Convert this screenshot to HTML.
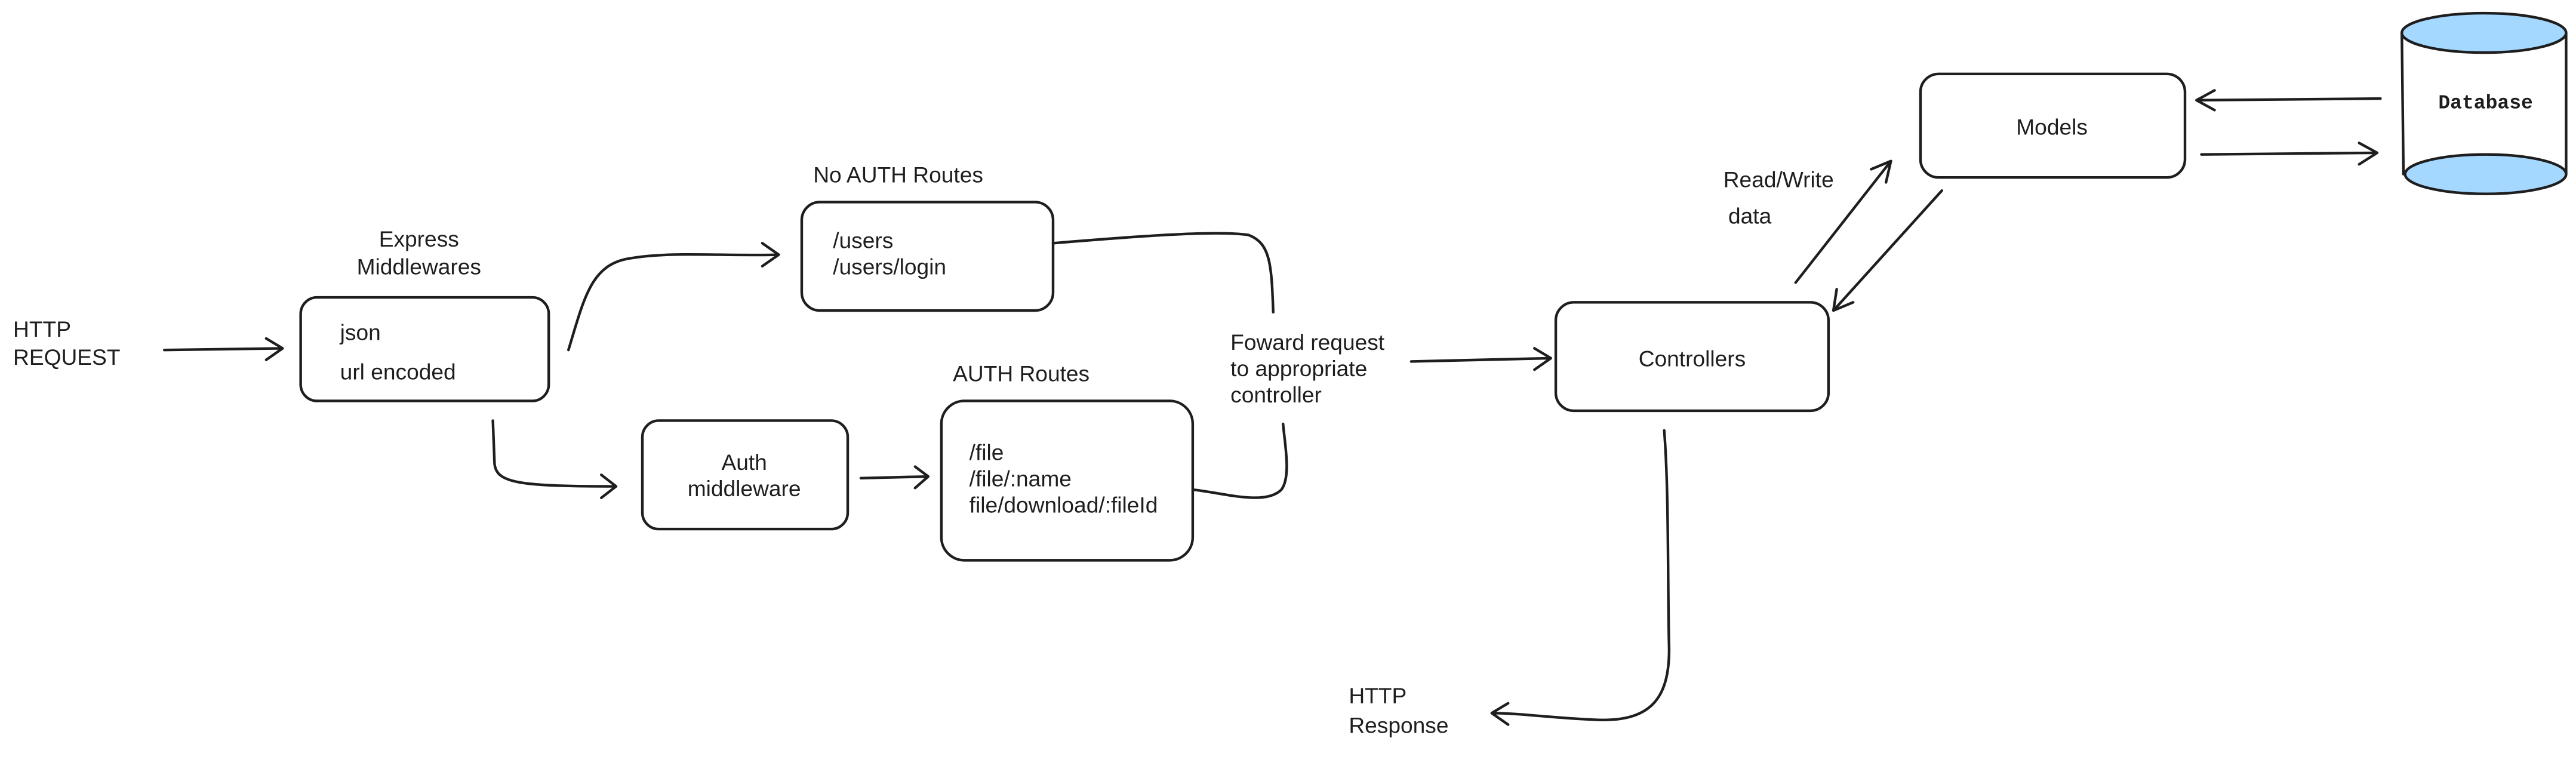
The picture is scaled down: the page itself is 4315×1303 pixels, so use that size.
<!DOCTYPE html>
<html><head><meta charset="utf-8"><style>
html,body{margin:0;padding:0;background:#fff}
svg{display:block}
text{font-family:"Liberation Sans",sans-serif;font-size:13.5px;fill:#1e1e1e}
.m{font-family:"Liberation Mono",monospace;font-size:12px;font-weight:600}
</style></head><body>
<svg width="4315" height="1303" viewBox="0 0 1568 473.5" xmlns="http://www.w3.org/2000/svg">
<g fill="none" stroke="#1e1e1e" stroke-width="1.6" stroke-linecap="round" stroke-linejoin="round">
<rect x="183" y="181" width="151" height="63" rx="10"/>
<rect x="488" y="123" width="153" height="66" rx="11"/>
<rect x="391" y="256" width="125" height="66" rx="10"/>
<rect x="573" y="244" width="153" height="97" rx="14"/>
<rect x="947" y="184" width="166" height="66" rx="11"/>
<rect x="1169" y="45" width="161" height="63" rx="11"/>
<path d="M100 213 L172 212 M162 206 L172 212 L162 219"/>
<path d="M346 213 C356 180 360 160 385 157 C410 153 440 156 474 155 M464 148 L474 155 L464 162"/>
<path d="M300 256 L301 282 C302 294 315 296 375 296 M366 289 L375 296 L366 303"/>
<path d="M524 291 L565 290 M557 284 L565 290 L557 297"/>
<path d="M641 148 C690 144 740 140 760 143 C773 148 774 160 775 190"/>
<path d="M726 298 C745 300 770 308 780 298 C786 290 782 270 781 258"/>
<path d="M859 220 L944 218 M934 212 L944 218 L934 225"/>
<path d="M1013 262 C1016 300 1015 360 1016 395 C1016 425 1005 440 970 438 C945 437 925 434 908 434 M918 428 L908 434 L918 441"/>
<path d="M1093 172 L1151 98 M1139 103 L1151 98 L1148 111"/>
<path d="M1182 116 L1116 189 M1118 176 L1116 189 L1128 184"/>
<path d="M1449 60 L1337 61 M1348 55 L1337 61 L1348 67"/>
<path d="M1340 94 L1447 93 M1436 87 L1447 93 L1436 100"/>
<path d="M1462 20 L1463 106 M1562 20 L1562 106"/>
<ellipse cx="1512" cy="20" rx="50" ry="12" fill="#a5d8ff"/>
<ellipse cx="1513" cy="106" rx="49" ry="12" fill="#a5d8ff"/>
</g>
<text x="8" y="205">HTTP</text>
<text x="8" y="222">REQUEST</text>
<text x="255" y="150" text-anchor="middle">Express</text>
<text x="255" y="167" text-anchor="middle">Middlewares</text>
<text x="207" y="207">json</text>
<text x="207" y="231">url encoded</text>
<text x="495" y="111">No AUTH Routes</text>
<text x="507" y="151">/users</text>
<text x="507" y="167">/users/login</text>
<text x="453" y="286" text-anchor="middle">Auth</text>
<text x="453" y="302" text-anchor="middle">middleware</text>
<text x="580" y="232">AUTH Routes</text>
<text x="590" y="280">/file</text>
<text x="590" y="296">/file/:name</text>
<text x="590" y="312">file/download/:fileId</text>
<text x="749" y="213">Foward request</text>
<text x="749" y="229">to appropriate</text>
<text x="749" y="245">controller</text>
<text x="1030" y="223" text-anchor="middle">Controllers</text>
<text x="821" y="428">HTTP</text>
<text x="821" y="446">Response</text>
<text x="1049" y="114">Read/Write</text>
<text x="1052" y="136">data</text>
<text x="1249" y="82" text-anchor="middle">Models</text>
<text class="m" x="1513" y="66" text-anchor="middle">Database</text>
</svg>
</body></html>
